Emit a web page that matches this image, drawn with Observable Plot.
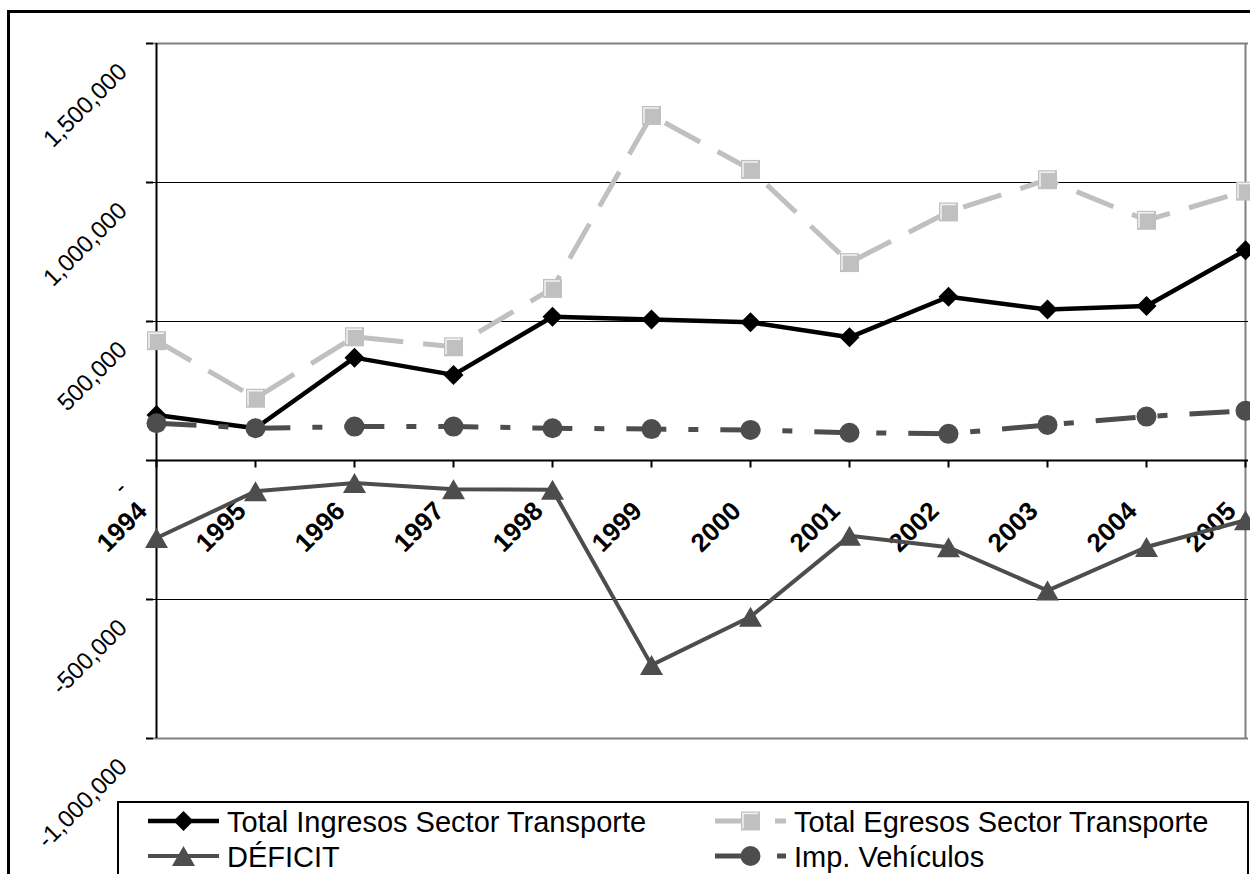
<!DOCTYPE html>
<html>
<head>
<meta charset="utf-8">
<script src="https://cdn.jsdelivr.net/npm/d3@7"></script>
<script src="https://cdn.jsdelivr.net/npm/@observablehq/plot@0.6"></script>
<style>
html, body { margin: 0; padding: 0; background: #fff; overflow: hidden; }
#wrap { position: relative; width: 1250px; height: 874px; overflow: hidden; font-family: "Liberation Sans", Arial, sans-serif; }
#frame { position: absolute; left: 7px; top: 10px; width: 1300px; height: 900px; border: 3px solid #000; box-sizing: border-box; pointer-events: none; }
#legend { position: absolute; left: 0; top: 0; pointer-events: none; }
</style>
</head>
<body>
<div id="wrap">
  <div id="chart"></div>
  <div id="frame"></div>
  <svg id="legend" width="1250" height="874"></svg>
</div>
<script>
// ---- data ----
const years = [1994, 1995, 1996, 1997, 1998, 1999, 2000, 2001, 2002, 2003, 2004, 2005];
const ingresos = [164000, 116000, 370000, 308000, 517000, 507000, 497000, 443000, 589000, 543000, 556000, 756000];
const egresos = [431000, 224000, 445000, 409000, 619000, 1241000, 1047000, 712000, 894000, 1010000, 864000, 969000];
const deficit = [-279000, -111000, -81000, -103000, -105000, -736000, -562000, -271000, -312000, -468000, -311000, -215000];
const impVehiculos = [134000, 116000, 122000, 122000, 116000, 113000, 110000, 100000, 96000, 128000, 158000, 179000];
const yTicks = [-1000000, -500000, 0, 500000, 1000000, 1500000];
const gridValues = [-500000, 500000, 1000000];
const borderValues = [-1000000, 1500000];
const seriesNames = ["Total Ingresos Sector Transporte", "Total Egresos Sector Transporte", "DÉFICIT", "Imp. Vehículos"];

// ---- custom symbols (r = half extent) ----
const rOf = size => Math.sqrt(size / Math.PI);
const diamondSym = {draw(c, s) { const r = rOf(s); c.moveTo(0, -r); c.lineTo(r, 0); c.lineTo(0, r); c.lineTo(-r, 0); c.closePath(); }};
const squareSym = {draw(c, s) { const r = rOf(s); c.rect(-r, -r, 2 * r, 2 * r); }};
const hiliteSym = {draw(c, s) { const r = rOf(s); c.moveTo(-r, r); c.lineTo(-r, -r); c.lineTo(r, -r); }};
const triSym = {draw(c, s) { const r = rOf(s); const w = r * 1.15; c.moveTo(0, -r); c.lineTo(w, r); c.lineTo(-w, r); c.closePath(); }};
const circleSym = {draw(c, s) { const r = rOf(s); c.moveTo(r, 0); c.arc(0, 0, r, 0, 2 * Math.PI); }};
const tickDown = {draw(c, s) { const r = rOf(s); c.moveTo(0, 0); c.lineTo(0, r); }};

const toRows = vals => years.map((year, i) => ({year, value: vals[i]}));
const ingRows = toRows(ingresos);
const egrRows = toRows(egresos);
const defRows = toRows(deficit);
const impRows = toRows(impVehiculos);

const fmtY = v => v === 0 ? "-" : (v < 0 ? "-" : "") + d3.format(",")(Math.abs(v));

const BLACK = "#000000", LIGHT = "#c0c0c0", DARK = "#4d4d4d", BORDER = "#808080";
const DASH_EGR = "40,20", DASH_IMP = "40,22,10,22";

const chart = Plot.plot({
  width: 1250,
  height: 874,
  marginLeft: 153,
  marginRight: 2,
  marginTop: 43,
  marginBottom: 136,
  x: {type: "point", domain: years, padding: 0, axis: null},
  y: {domain: [-1000000, 1500000], axis: null},
  style: {fontFamily: "'Liberation Sans', Arial, sans-serif", background: "white", overflow: "visible", color: "black"},
  marks: [
    Plot.ruleY(borderValues, {stroke: BORDER, strokeWidth: 2}),
    Plot.ruleX([years[years.length - 1]], {stroke: BORDER, strokeWidth: 2}),
    Plot.ruleY(gridValues, {stroke: BLACK, strokeWidth: 1}),
    Plot.ruleY([0], {stroke: BLACK, strokeWidth: 2}),
    Plot.ruleX([years[0]], {stroke: BLACK, strokeWidth: 2}),
    Plot.axisY(yTicks, {tickSize: 7, tickFormat: () => "", stroke: BLACK, strokeWidth: 2, label: null}),
    Plot.axisY(yTicks, {tickSize: 0, tickPadding: 0, tickRotate: -45, textAnchor: "end", lineAnchor: "bottom",
      dx: -25, dy: 29.5, fontSize: 24, fill: BLACK, tickFormat: fmtY, label: null}),
    Plot.dot(years, {x: d => d, y: () => 0, symbol: tickDown, r: 7, stroke: BLACK, strokeWidth: 2, fill: "none"}),
    Plot.text(years, {x: d => d, y: () => 0, text: d => String(d), rotate: -45, textAnchor: "end", lineAnchor: "bottom",
      dx: -8, dy: 52, fontSize: 26, fontWeight: "bold", fill: BLACK}),
    // Total Ingresos
    Plot.line(ingRows, {x: "year", y: "value", stroke: BLACK, strokeWidth: 4.5, strokeLinejoin: "round"}),
    Plot.dot(ingRows, {x: "year", y: "value", symbol: diamondSym, r: 10, fill: BLACK, stroke: "none"}),
    // Total Egresos
    Plot.line(egrRows, {x: "year", y: "value", stroke: LIGHT, strokeWidth: 5, strokeDasharray: DASH_EGR, strokeLinecap: "butt", strokeLinejoin: "round"}),
    Plot.dot(egrRows, {x: "year", y: "value", symbol: squareSym, r: 9.5, fill: LIGHT, stroke: "none"}),
    Plot.dot(egrRows, {x: "year", y: "value", symbol: hiliteSym, r: 7.5, fill: "none", stroke: "#f2f2f2", strokeWidth: 1.5}),
    // DÉFICIT
    Plot.line(defRows, {x: "year", y: "value", stroke: DARK, strokeWidth: 4, strokeLinejoin: "round"}),
    Plot.dot(defRows, {x: "year", y: "value", symbol: triSym, r: 10, fill: DARK, stroke: "none"}),
    // Imp. Vehículos
    Plot.line(impRows, {x: "year", y: "value", stroke: DARK, strokeWidth: 5, strokeDasharray: DASH_IMP, strokeLinecap: "butt", strokeLinejoin: "round"}),
    Plot.dot(impRows, {x: "year", y: "value", symbol: circleSym, r: 10, fill: DARK, stroke: "none"})
  ]
});
document.getElementById("chart").appendChild(chart);

// ---- legend ----
const leg = d3.select("#legend");
leg.append("rect").attr("x", 118).attr("y", 802).attr("width", 1130).attr("height", 120)
  .attr("fill", "white").attr("stroke", "black").attr("stroke-width", 2);
const legendItems = [
  {name: seriesNames[0], color: BLACK, width: 4.5, dash: null, sym: diamondSym, r: 10, col: 0, row: 0},
  {name: seriesNames[1], color: LIGHT, width: 5, dash: DASH_EGR, sym: squareSym, r: 9.5, col: 1, row: 0, hilite: true},
  {name: seriesNames[2], color: DARK, width: 4, dash: null, sym: triSym, r: 10, col: 0, row: 1},
  {name: seriesNames[3], color: DARK, width: 5, dash: DASH_IMP, sym: circleSym, r: 10, col: 1, row: 1}
];
const colX = [148, 715];
const rowY = [821, 856];
legendItems.forEach(it => {
  const x0 = colX[it.col], y0 = rowY[it.row], x1 = x0 + 71, xm = (x0 + x1) / 2;
  const g = leg.append("g");
  const ln = g.append("line").attr("x1", x0).attr("x2", x1).attr("y1", y0).attr("y2", y0)
    .attr("stroke", it.color).attr("stroke-width", it.width);
  if (it.dash) ln.attr("stroke-dasharray", it.dash);
  g.append("path").attr("transform", `translate(${xm},${y0})`)
    .attr("d", d3.symbol(it.sym, Math.PI * it.r * it.r)()).attr("fill", it.color);
  if (it.hilite) g.append("path").attr("transform", `translate(${xm},${y0})`)
    .attr("d", d3.symbol(hiliteSym, Math.PI * 7.5 * 7.5)()).attr("fill", "none").attr("stroke", "#f2f2f2").attr("stroke-width", 1.5);
  g.append("text").attr("x", x1 + 8).attr("y", y0 + 11).attr("font-size", 29)
    .attr("font-family", "'Liberation Sans', Arial, sans-serif").attr("fill", "black").text(it.name);
});
</script>
</body>
</html>
